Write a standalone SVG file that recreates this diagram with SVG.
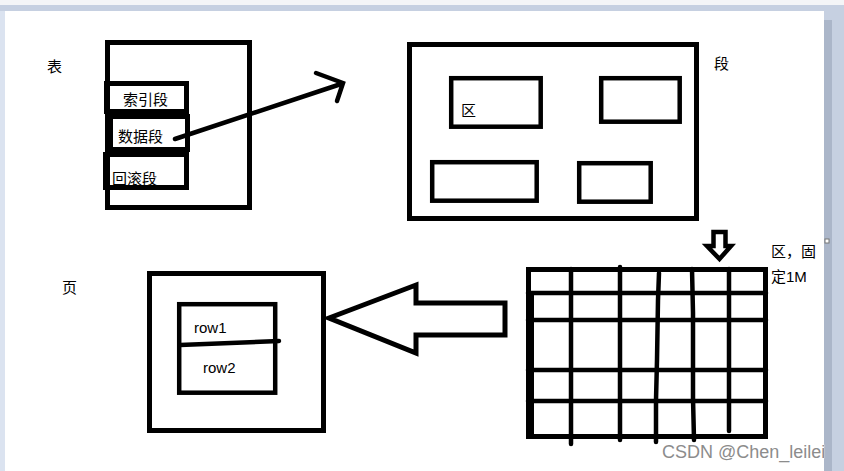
<svg xmlns="http://www.w3.org/2000/svg" width="844" height="471" viewBox="0 0 844 471">
<style>
.b{fill:none;stroke:#000;stroke-width:5}
.m{fill:none;stroke:#000;stroke-width:4.5}
.t{font-family:"Liberation Sans","Noto Sans CJK SC",sans-serif;font-size:15px;fill:#000}
.ln{fill:none;stroke:#000;stroke-width:4.5;stroke-linecap:round}
.wm{font-family:"Liberation Sans",Arial,sans-serif;font-size:18px;fill:#8c8c8c;stroke:#fff;stroke-width:0.6;paint-order:stroke}
</style>
<rect x="0" y="0" width="844" height="471" fill="#c6d0e1"/>
<rect x="0" y="0" width="844" height="5" fill="#f4f5f7"/>
<rect x="0" y="11" width="5" height="460" fill="#dbe3f0"/>
<rect x="824" y="20" width="8" height="451" fill="#abb6c9"/>
<rect x="5" y="11" width="819" height="460" fill="#fff"/>
<rect x="825" y="239" width="4" height="4" fill="#fff" stroke="#777" stroke-width="1"/>

<g id="table">
<text class="t" x="47" y="72">表</text>
<rect class="b" x="107.5" y="42.5" width="142" height="165"/>
</g>
<g id="index-seg">
<rect class="b" x="106.5" y="83.5" width="80" height="28"/>
<text class="t" x="123" y="105">索引段</text>
</g>
<g id="data-seg">
<rect class="b" x="110.5" y="116.5" width="77" height="33"/>
<text class="t" x="118" y="142">数据段</text>
</g>
<g id="undo-seg">
<rect class="b" x="105.5" y="154.5" width="81" height="33"/>
<text class="t" x="112" y="184">回滚段</text>
</g>

<g id="segment">
<rect class="b" x="409.5" y="44.5" width="287" height="174"/>
<text class="t" x="714" y="69">段</text>
</g>
<g id="extent1">
<rect class="m" x="451.2" y="78.2" width="89.5" height="48.5"/>
<text class="t" x="461" y="116">区</text>
</g>
<g id="extent2"><rect class="m" x="601.2" y="78.2" width="78.5" height="43.5"/></g>
<g id="extent3"><rect class="m" x="432.2" y="162.2" width="104.5" height="38.5"/></g>
<g id="extent4"><rect class="m" x="579.2" y="163.2" width="71.5" height="38.5"/></g>

<g id="extent-grid">
<rect class="b" x="528.5" y="269.5" width="237" height="167"/>
<rect x="527" y="292" width="7" height="145" fill="#000"/>
<line class="ln" x1="528" y1="293" x2="766" y2="293"/>
<line class="ln" x1="528" y1="320" x2="766" y2="320"/>
<line class="ln" x1="528" y1="370" x2="766" y2="370"/>
<line class="ln" x1="528" y1="401" x2="766" y2="401"/>
<line class="ln" x1="571" y1="269" x2="571" y2="444"/>
<line class="ln" x1="620" y1="267" x2="620" y2="440"/>
<polyline class="ln" points="659,273 658,300 657,360 656,400 656,442"/>
<polyline class="ln" points="692,269 693,313 693,398 694,440"/>
<line class="ln" x1="729" y1="269" x2="729" y2="431"/>
<text class="t" x="771" y="257">区，固</text>
<text class="t" x="771" y="282">定1M</text>
</g>

<g id="page">
<text class="t" x="62" y="293">页</text>
<rect class="b" x="149.5" y="273.5" width="174" height="157"/>
</g>
<g id="rows">
<rect class="m" x="179.2" y="304.2" width="96" height="88.5"/>
<text class="t" x="194" y="333">row1</text>
<text class="t" x="203" y="373">row2</text>
<line class="ln" x1="180" y1="345" x2="279" y2="341"/>
</g>

<g id="connectors">
<line class="ln" x1="175" y1="139" x2="341" y2="84"/>
<polyline class="ln" points="316,73 343,83 337,101"/>
<path class="b" stroke-linejoin="miter" d="M329,318 L416,285 L416,303 L505,303 L505,335 L416,335 L416,353 Z"/>
<path class="m" stroke-width="4" d="M713.5,232 L725.5,232 L725.5,246 L731,246 L719.5,259 L707,246 L713.5,246 Z"/>
</g>

<text class="wm" x="662" y="458">CSDN @Chen_leilei</text>
</svg>
